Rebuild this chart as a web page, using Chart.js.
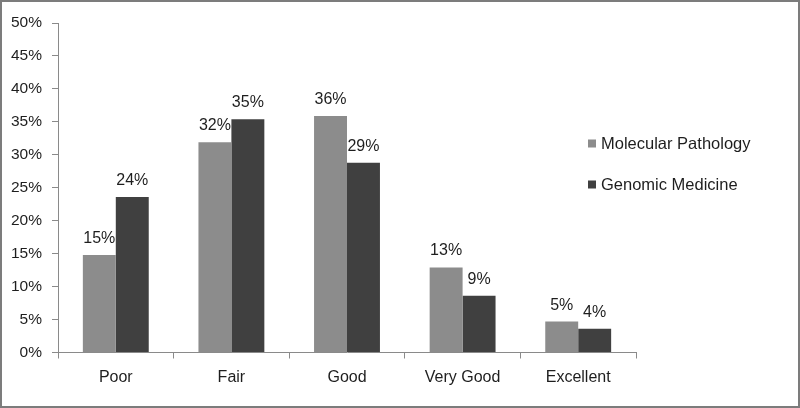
<!DOCTYPE html>
<html>
<head>
<meta charset="utf-8">
<script src="https://cdn.jsdelivr.net/npm/chart.js@4.4.0/dist/chart.umd.min.js"></script>
<style>
html,body{margin:0;padding:0;background:#fff;}
canvas{display:block;}
</style>
</head>
<body>
<canvas id="c" width="800" height="408"></canvas>
<script>
const categories = ["Poor", "Fair", "Good", "Very Good", "Excellent"];
const molecularPathology = [14.8, 31.9, 35.9, 12.9, 4.7];
const genomicMedicine = [23.6, 35.4, 28.8, 8.6, 3.6];
const seriesNames = ["Molecular Pathology", "Genomic Medicine"];
const seriesColors = ["#8c8c8c", "#404040"];
const yTickValues = [0, 5, 10, 15, 20, 25, 30, 35, 40, 45, 50];

const FONT = "'Liberation Sans', Arial, sans-serif";
const TEXT = "#1e1e1e";
const AXIS = "#8a8a8a";

const framePlugin = {
  id: 'frame',
  beforeDraw(chart) {
    const ctx = chart.ctx;
    ctx.save();
    ctx.fillStyle = '#fff';
    ctx.fillRect(0, 0, chart.width, chart.height);
    ctx.restore();
  },
  afterDraw(chart) {
    const ctx = chart.ctx;
    ctx.save();
    ctx.strokeStyle = '#7c7c7c';
    ctx.lineWidth = 2;
    ctx.strokeRect(1, 1, chart.width - 2, chart.height - 2);
    // legend
    ctx.font = "16.5px " + FONT;
    ctx.textBaseline = 'middle';
    ctx.textAlign = 'left';
    const ys = [143.5, 184.5];
    chart.data.datasets.forEach((ds, i) => {
      ctx.fillStyle = ds.backgroundColor;
      ctx.fillRect(588, ys[i] - 4, 8, 8);
      ctx.fillStyle = TEXT;
      ctx.fillText(ds.label, 601, ys[i] + 0.5);
    });
    ctx.restore();
  }
};

const labelPlugin = {
  id: 'barLabels',
  afterDatasetsDraw(chart) {
    const ctx = chart.ctx;
    ctx.save();
    ctx.font = "16px " + FONT;
    ctx.fillStyle = TEXT;
    ctx.textAlign = 'center';
    ctx.textBaseline = 'alphabetic';
    chart.data.datasets.forEach((ds, di) => {
      const meta = chart.getDatasetMeta(di);
      meta.data.forEach((bar, i) => {
        ctx.fillText(Math.round(ds.data[i]) + '%', bar.x, bar.y - 12);
      });
    });
    ctx.restore();
  }
};

new Chart(document.getElementById('c'), {
  type: 'bar',
  data: {
    labels: categories,
    datasets: [
      { label: seriesNames[0], data: molecularPathology, backgroundColor: seriesColors[0] },
      { label: seriesNames[1], data: genomicMedicine, backgroundColor: seriesColors[1] }
    ]
  },
  options: {
    responsive: false,
    animation: false,
    layout: { padding: { top: 23, right: 164, left: 0, bottom: 0 } },
    plugins: { legend: { display: false }, tooltip: { enabled: false } },
    datasets: { bar: { categoryPercentage: 0.57, barPercentage: 1.0 } },
    scales: {
      x: {
        afterFit(s) { s.height = 55.5; },
        grid: { display: true, drawOnChartArea: false, offset: true, tickLength: 6, color: AXIS },
        border: { color: AXIS },
        ticks: { color: TEXT, font: { family: FONT, size: 16 }, padding: 9 }
      },
      y: {
        min: 0, max: 50,
        afterFit(s) { s.width = 58; },
        afterBuildTicks(s) { s.ticks = yTickValues.map(v => ({ value: v })); },
        grid: { display: true, drawOnChartArea: false, tickLength: 6, color: AXIS },
        border: { color: AXIS },
        ticks: { color: TEXT, font: { family: FONT, size: 15.5 }, padding: 10, callback: v => v + '%' }
      }
    }
  },
  plugins: [framePlugin, labelPlugin]
});
</script>
</body>
</html>
